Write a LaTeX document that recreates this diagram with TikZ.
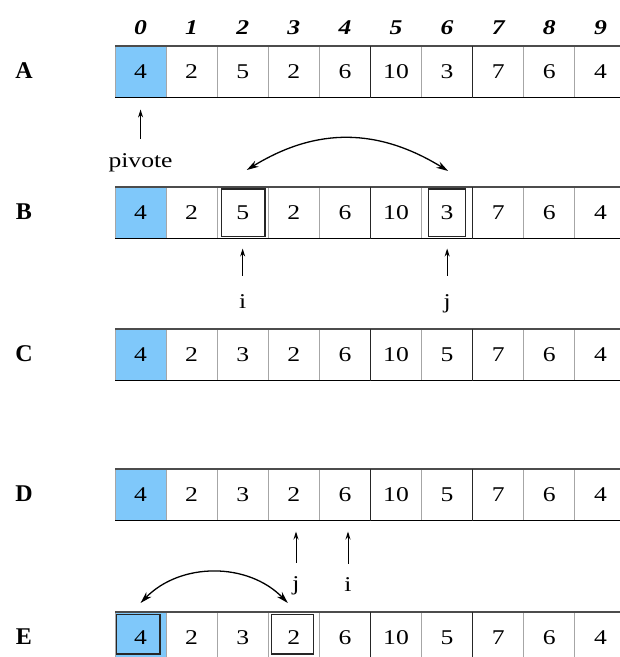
\documentclass[tikz,border=0pt]{standalone}
\usepackage{fontspec}
\setmainfont{Liberation Serif}
\newfontfamily\cellfont{Liberation Serif}[FakeStretch=1.22]
\usetikzlibrary{arrows.meta,calc}
\definecolor{pivblue}{RGB}{127,200,250}
\begin{document}
\begin{tikzpicture}[x=1pt,y=-1pt,
  cell/.style={draw=gray!70, line width=0.9pt, minimum width=51.1pt, minimum height=51.5pt,
    inner sep=0pt, outer sep=0pt, font=\cellfont\fontsize{21}{21}\selectfont, anchor=north west},
  pivcell/.style={cell, fill=pivblue},
  rowlbl/.style={font=\bfseries\fontsize{24}{24}\selectfont},
  idx/.style={font=\cellfont\bfseries\itshape\fontsize{21}{21}\selectfont},
  ptrlbl/.style={font=\cellfont\fontsize{21}{21}\selectfont, inner sep=0pt, anchor=base},
  ptr/.style={-{Stealth[length=8pt,width=5pt]}, line width=1pt},
  swaparr/.style={{Stealth[length=12pt,width=7pt]}-{Stealth[length=12pt,width=7pt]}, line width=1.3pt},
  innerbox/.style={draw=black!85, line width=1.4pt},
  toprule/.style={draw=black!70, line width=1.2pt},
  botrule/.style={draw=black, line width=1.8pt},
  sep/.style={draw=black!85, line width=1.1pt}]
\fill[white] (0,0) rectangle (620,657);
\clip (0,0) rectangle (620,657);
\useasboundingbox (0,0) rectangle (620,657);

% index labels
\foreach \i in {0,...,9} {
  \node[idx] (ix\i) at ({140.55+51.1*\i},28) {\i};
}

% rows
\foreach \r/\y/\vals in {A/46/{4,2,5,2,6,10,3,7,6,4},
                         B/187/{4,2,5,2,6,10,3,7,6,4},
                         C/329/{4,2,3,2,6,10,5,7,6,4},
                         D/469/{4,2,3,2,6,10,5,7,6,4},
                         E/612/{4,2,3,2,6,10,5,7,6,4}} {
  \foreach \v [count=\i from 0] in \vals {
    \ifnum\i=0
      \node[pivcell] (\r\i) at ({115+51.1*\i},\y) {\v};
    \else
      \node[cell] (\r\i) at ({115+51.1*\i},\y) {\v};
    \fi
  }
  \draw[toprule] (\r0.north west) -- (\r9.north east);
  \draw[botrule] (\r0.south west) -- (\r9.south east);
  \draw[sep] (\r4.north east) -- (\r4.south east);
  \draw[sep] (\r6.north east) -- (\r6.south east);
  \node[rowlbl] (lbl\r) at (24,{\y+25}) {\r};
}

% row A: pivot
\node[ptrlbl] (piv) at (140.55,167) {pivote};
\draw[ptr, shorten <=14pt, shorten >=12pt] (piv) -- (A0);

% row B: swap i and j
\draw[innerbox] ($(B2.north west)+(4.5,2)$) rectangle ($(B2.south east)+(-3.5,-2)$);
\draw[innerbox] ($(B6.north west)+(7,2)$) rectangle ($(B6.south east)+(-7.5,-2)$);
\draw[swaparr] ($(B2.north)+(4,-17)$) .. controls +(70,-43) and +(-70,-43) .. ($(B6.north)+(1,-16)$);
\node[ptrlbl] (iB) at (242.65,308) {i};
\node[ptrlbl] (jB) at (447.15,308) {j};
\draw[ptr, shorten <=18pt, shorten >=10pt] (iB) -- (iB |- B2.south);
\draw[ptr, shorten <=18pt, shorten >=10pt] (jB) -- (jB |- B6.south);

% row D: j and i
\node[ptrlbl] (jD) at (296,590) {j};
\node[ptrlbl] (iD) at (348,591) {i};
\draw[ptr, shorten <=13pt, shorten >=11pt] (jD) -- (jD |- D3.south);
\draw[ptr, shorten <=13pt, shorten >=11pt] (iD) -- (iD |- D4.south);

% row E: swap pivot with j
\draw[innerbox] ($(E0.north west)+(1.5,2.5)$) rectangle ($(E0.south east)+(-6,-9.5)$);
\draw[innerbox] ($(E3.north west)+(3,2.5)$) rectangle ($(E3.south east)+(-6,-9.5)$);
\draw[swaparr] ($(E0.north)+(0,-9)$) .. controls +(40,-41) and +(-40,-41) .. ($(E3.north)+(-6,-9)$);
\end{tikzpicture}
\end{document}
